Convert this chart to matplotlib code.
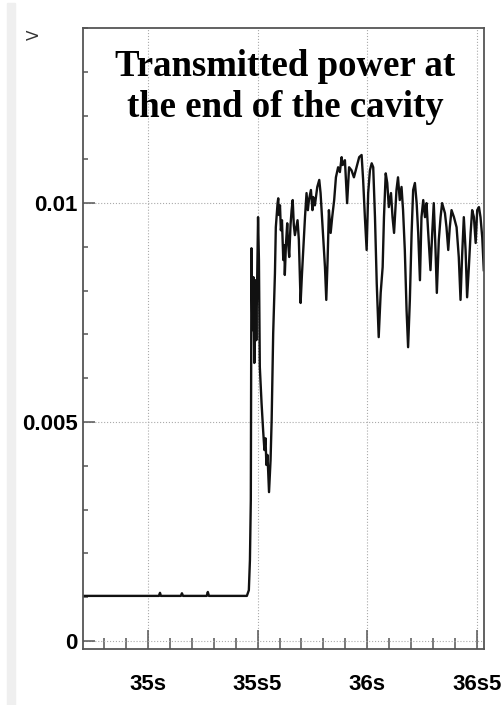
import matplotlib.pyplot as plt
from matplotlib.ticker import MultipleLocator, FixedLocator, FixedFormatter
from matplotlib.patches import Rectangle

# Temps (s) et tension (V)
temps = [34.704, 35.050, 35.055, 35.059, 35.150, 35.155, 35.160, 35.268, 35.273, 35.278,
         35.451, 35.460, 35.465, 35.469, 35.472, 35.476, 35.481, 35.485, 35.490, 35.494,
         35.502, 35.506, 35.510, 35.518, 35.525, 35.531, 35.536, 35.540, 35.545, 35.552,
         35.559, 35.564, 35.571, 35.579, 35.583, 35.591, 35.594, 35.597, 35.602, 35.606,
         35.611, 35.617, 35.622, 35.624, 35.629, 35.635, 35.638, 35.644, 35.650, 35.655,
         35.660, 35.665, 35.670, 35.682, 35.688, 35.696, 35.702, 35.708, 35.716, 35.723,
         35.729, 35.734, 35.743, 35.750, 35.753, 35.761, 35.772, 35.781, 35.787, 35.796,
         35.807, 35.813, 35.819, 35.825, 35.833, 35.840, 35.849, 35.857, 35.867, 35.875,
         35.883, 35.888, 35.898, 35.908, 35.917, 35.928, 35.939, 35.951, 35.963, 35.974,
         35.981, 35.989, 35.997, 36.004, 36.012, 36.020, 36.027, 36.035, 36.043, 36.052,
         36.061, 36.070, 36.076, 36.084, 36.091, 36.098, 36.108, 36.115, 36.122, 36.133,
         36.140, 36.148, 36.156, 36.163, 36.171, 36.179, 36.186, 36.194, 36.202, 36.209,
         36.217, 36.225, 36.232, 36.240, 36.247, 36.255, 36.263, 36.270, 36.277, 36.288,
         36.296, 36.303, 36.311, 36.317, 36.326, 36.334, 36.341, 36.354, 36.361, 36.369,
         36.376, 36.384, 36.395, 36.407, 36.417, 36.425, 36.432, 36.440, 36.448, 36.455,
         36.463, 36.471, 36.478, 36.486, 36.494, 36.501, 36.509, 36.516, 36.524, 36.531]
tension = [0.00103, 0.00103, 0.00110, 0.00103, 0.00103, 0.00109, 0.00103, 0.00103, 0.00112, 0.00103,
           0.00103, 0.00116, 0.00185, 0.00322, 0.00897, 0.00710, 0.00831, 0.00635, 0.00824, 0.00687,
           0.00968, 0.00870, 0.00626, 0.00543, 0.00482, 0.00436, 0.00463, 0.00402, 0.00425, 0.00340,
           0.00413, 0.00505, 0.00703, 0.00840, 0.00945, 0.01000, 0.01011, 0.00973, 0.00995, 0.00938,
           0.00961, 0.00870, 0.00904, 0.00836, 0.00904, 0.00954, 0.00916, 0.00877, 0.00950, 0.00984,
           0.01007, 0.00950, 0.00927, 0.00961, 0.00916, 0.00772, 0.00836, 0.00893, 0.00968, 0.01023,
           0.00984, 0.01007, 0.01030, 0.00984, 0.01014, 0.00995, 0.01037, 0.01053, 0.01023, 0.00945,
           0.00854, 0.00779, 0.00870, 0.00984, 0.00932, 0.00968, 0.01007, 0.01059, 0.01082, 0.01071,
           0.01105, 0.01087, 0.01098, 0.01000, 0.01082, 0.01075, 0.01059, 0.01082, 0.01105, 0.01110,
           0.01053, 0.00968, 0.00893, 0.01023, 0.01075, 0.01091, 0.01082, 0.00968, 0.00817, 0.00694,
           0.00795, 0.00854, 0.00968, 0.01068, 0.01046, 0.00991, 0.01023, 0.00968, 0.00932, 0.01030,
           0.01059, 0.01007, 0.01037, 0.00984, 0.00893, 0.00756, 0.00671, 0.00779, 0.00932, 0.01030,
           0.01046, 0.01000, 0.00932, 0.00824, 0.00968, 0.01007, 0.00968, 0.01000, 0.00938, 0.00847,
           0.00932, 0.01000, 0.00893, 0.00795, 0.00916, 0.00968, 0.01000, 0.00977, 0.00945, 0.00893,
           0.00945, 0.00984, 0.00968, 0.00945, 0.00877, 0.00779, 0.00877, 0.00968, 0.00893, 0.00785,
           0.00854, 0.00932, 0.00984, 0.00968, 0.00909, 0.00984, 0.00991, 0.00968, 0.00922, 0.00847]

ticks_x = [35.0, 35.5, 36.0, 36.5]
labels_x = ["35s", "35s5", "36s", "36s5"]
ticks_y = [0, 0.005, 0.01]
labels_y = ["0", "0.005", "0.01"]

fig = plt.figure(figsize=(5.03, 7.05), dpi=100)

# bande grise à gauche
fig.patches.append(Rectangle((7 / 503, 0), 8 / 503, 1 - 3 / 705, transform=fig.transFigure,
                             color="#efefef", zorder=0))

ax = fig.add_axes([83 / 503, 1 - 649 / 705, 401 / 503, 621 / 705])
ax.plot(temps, tension, color="#111111", lw=1.7)

ax.set_xlim(34.704, 36.532)
ax.set_ylim(-0.000183, 0.014)

ax.xaxis.set_major_locator(FixedLocator(ticks_x))
ax.xaxis.set_major_formatter(FixedFormatter(labels_x))
ax.xaxis.set_minor_locator(MultipleLocator(0.1))
ax.yaxis.set_major_locator(FixedLocator(ticks_y))
ax.yaxis.set_major_formatter(FixedFormatter(labels_y))
ax.yaxis.set_minor_locator(MultipleLocator(0.001))

ax.tick_params(axis="x", which="major", direction="in", length=14, width=1.1, color="#555555", pad=18)
ax.tick_params(axis="x", which="minor", direction="in", length=8, width=1.1, color="#555555")
ax.tick_params(axis="y", which="major", direction="in", length=8.5, width=1.1, color="#555555", pad=4)
ax.tick_params(axis="y", which="minor", direction="in", length=3.6, width=1.1, color="#555555")

for lab in ax.get_xticklabels() + ax.get_yticklabels():
    lab.set_fontfamily("Liberation Sans")
    lab.set_fontweight("bold")
    lab.set_fontsize(16)

for s in ax.spines.values():
    s.set_color("#555555")
    s.set_linewidth(1.3)

ax.grid(True, which="major", linestyle=":", color="#aaaaaa", lw=0.8)

ax.text(0.505, 0.966, "Transmitted power at\nthe end of the cavity", transform=ax.transAxes,
        ha="center", va="top", fontfamily="Liberation Serif", fontweight="bold",
        fontsize=26.5, linespacing=1.2)

fig.text(34.5 / 503, 1 - 34.5 / 705, "V", rotation=90, ha="center", va="center",
         fontsize=11, color="#333333")

plt.savefig("out.png", dpi=100)
